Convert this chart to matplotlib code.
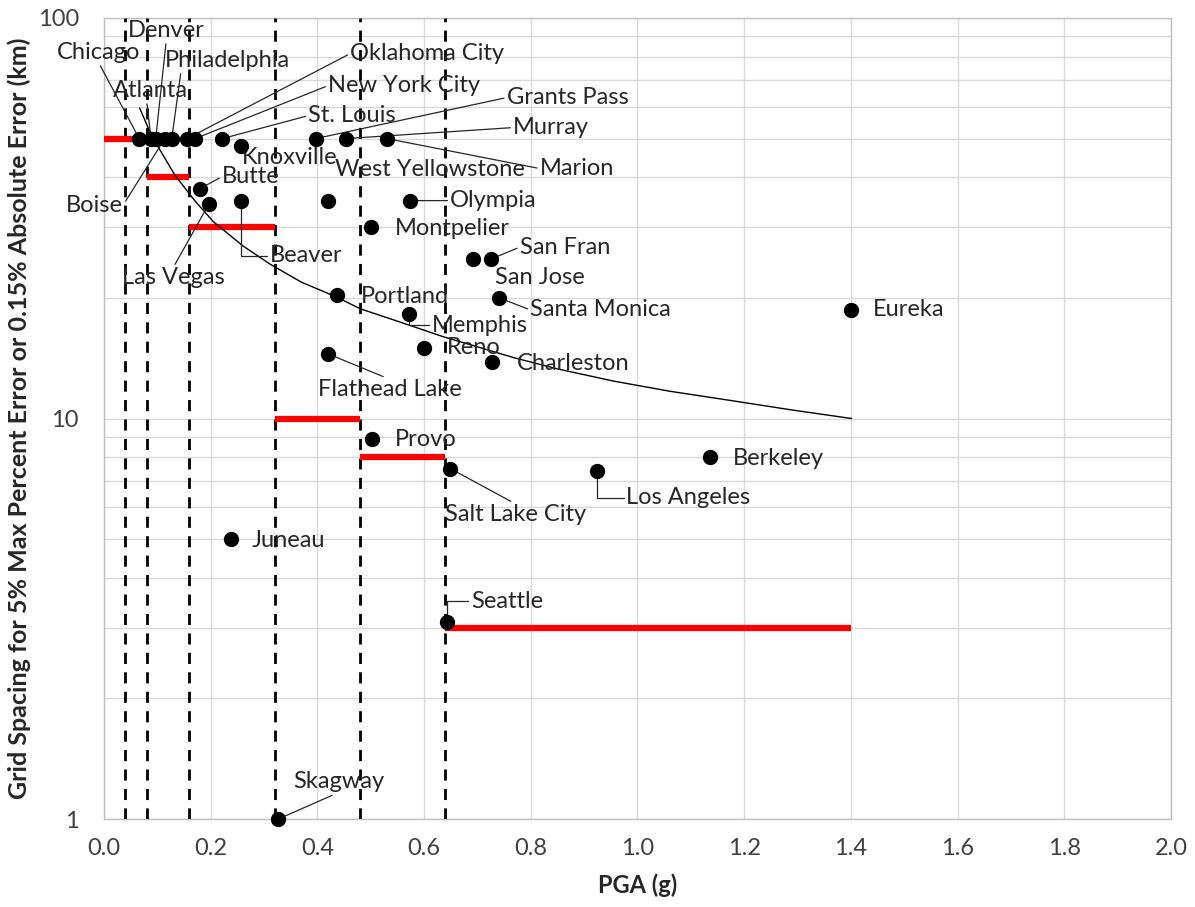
import matplotlib
matplotlib.use("Agg")
import matplotlib.pyplot as plt
from matplotlib.ticker import FixedLocator, FuncFormatter, NullFormatter, LogLocator

plt.rcParams["font.family"] = ["Lato", "DejaVu Sans"]

# city points: PGA (g) and grid spacing (km)
cities = ["Chicago", "Atlanta", "Denver", "Boise", "Philadelphia", "Oklahoma City",
          "New York City", "St. Louis", "Knoxville", "Grants Pass", "Murray", "Marion",
          "West Yellowstone", "Butte", "Las Vegas", "Beaver", "Olympia", "Montpelier",
          "San Fran", "San Jose", "Portland", "Santa Monica", "Memphis", "Reno",
          "Charleston", "Flathead Lake", "Eureka", "Provo", "Salt Lake City",
          "Los Angeles", "Berkeley", "Juneau", "Seattle", "Skagway"]
pga = [0.066, 0.088, 0.097, 0.114, 0.127, 0.156,
       0.171, 0.222, 0.256, 0.397, 0.454, 0.530,
       0.420, 0.180, 0.197, 0.256, 0.574, 0.500,
       0.725, 0.691, 0.437, 0.741, 0.572, 0.599,
       0.727, 0.420, 1.400, 0.502, 0.649,
       0.925, 1.135, 0.238, 0.643, 0.327]
spacing = [50, 50, 50, 50, 50, 50,
           50, 50, 48, 50, 50, 50,
           35, 37.5, 34.4, 35, 35, 30,
           25, 25, 20.3, 20, 18.2, 15,
           13.8, 14.5, 18.7, 8.9, 7.5,
           7.4, 8.0, 5.0, 3.1, 1.0]

# red bin steps
bin_start = [0.00, 0.08, 0.16, 0.32, 0.48, 0.64]
bin_end = [0.08, 0.16, 0.32, 0.48, 0.64, 1.40]
bin_spacing = [50, 40, 30, 10, 8, 3]

# dashed PGA bin edges
bin_edges = [0.04, 0.08, 0.16, 0.32, 0.48, 0.64]

# thin black curve
curve_x = [0.067, 0.086, 0.105, 0.133, 0.17, 0.205, 0.26, 0.311, 0.37, 0.436, 0.48, 0.55,
           0.636, 0.70, 0.767, 0.85, 0.955, 1.06, 1.173, 1.29, 1.401]
curve_y = [59.5, 52, 46.8, 40.5, 35.0, 31.0, 27.0, 24.3, 21.9, 20.1, 18.8, 17.5,
           16.0, 15.1, 14.2, 13.3, 12.4, 11.7, 11.1, 10.5, 10.0]

# label placement: offset in pixels (right, up), leader start on text box, leader kind
lab = {
    "Chicago": (-82, 86, (0.5, 0), "line"),
    "Atlanta": (-38, 48, (0.45, 0), "line"),
    "Denver": (-28, 108, (0.5, 0), "line"),
    "Boise": (-99, -67, (1, 0.5), "line"),
    "Philadelphia": (-7, 78, (0.13, 0), "line"),
    "Oklahoma City": (163, 85, (0, 0.5), "line"),
    "New York City": (133, 53, (0, 0.5), "line"),
    "St. Louis": (86, 23, (0, 0.5), "line"),
    "Knoxville": (1, -12, None, None),
    "Grants Pass": (191, 41, (0, 0.5), "line"),
    "Murray": (167, 11, (0, 0.5), "line"),
    "Marion": (153, -30, (0, 0.5), "line"),
    "West Yellowstone": (7, 31, None, None),
    "Butte": (22, 12, (0, 0.5), "line"),
    "Las Vegas": (-87, -74, (0.5, 1), "line"),
    "Beaver": (29, -55, (0, 0.5), "angle"),
    "Olympia": (40, 0, (0, 0.5), "line"),
    "Montpelier": (24, -1, None, None),
    "San Fran": (29, 12, (0, 0.5), "line"),
    "San Jose": (22, -18, None, None),
    "Portland": (24, -1, None, None),
    "Santa Monica": (31, -12, (0, 0.5), "line"),
    "Memphis": (23, -11, (0, 0.5), "angle"),
    "Reno": (23, 0, None, None),
    "Charleston": (25, -1, None, None),
    "Flathead Lake": (-10, -36, (0.5, 1), "line"),
    "Eureka": (22, 0, None, None),
    "Provo": (23, -1, None, None),
    "Salt Lake City": (-5, -46, (0.5, 1), "line"),
    "Los Angeles": (29, -27, (0, 0.5), "angle"),
    "Berkeley": (23, -1, None, None),
    "Juneau": (21, -1, None, None),
    "Seattle": (24, 21, (0, 0.5), "angle"),
    "Skagway": (14.5, 37, (0.5, 0), "line"),
}

fig = plt.figure(figsize=(11.95, 9.07), dpi=100, facecolor="white")
ax = fig.add_axes([104 / 1195, 1 - 819 / 907, 1067 / 1195, 801 / 907])

for x in bin_edges:
    ax.plot([x, x], [1, 100], color="black", lw=2.0, linestyle=(0, (4, 3)), zorder=3)

for a, b, s in zip(bin_start, bin_end, bin_spacing):
    ax.plot([a, b], [s, s], color="#ff0000", lw=4.5, solid_capstyle="butt", zorder=4)

ax.plot(curve_x, curve_y, color="black", lw=1.0, zorder=4)

ax.plot(pga, spacing, "o", color="black", markersize=10, zorder=6, clip_on=False)

k = 72 / 100
for name, x, y in zip(cities, pga, spacing):
    dx, dy, rel, kind = lab[name]
    props = None
    if kind == "line":
        props = dict(arrowstyle="-", color="#262626", lw=0.9, relpos=rel, shrinkA=0, shrinkB=0)
    elif kind == "angle":
        props = dict(arrowstyle="-", color="#262626", lw=0.9, relpos=rel, shrinkA=0, shrinkB=0,
                     connectionstyle="angle,angleA=0,angleB=90,rad=0")
    ax.annotate(name, xy=(x, y), xytext=(dx * k, dy * k), textcoords="offset points",
                ha="left", va="center", fontsize=17, color="#262626",
                arrowprops=props, zorder=5)

ax.set_yscale("log")
ax.set_xlim(0, 2.0)
ax.set_ylim(1, 100)
ax.xaxis.set_major_locator(FixedLocator([i * 0.2 for i in range(11)]))
ax.xaxis.set_major_formatter(FuncFormatter(lambda v, p: f"{v:.1f}"))
ax.yaxis.set_major_locator(FixedLocator([1, 10, 100]))
ax.yaxis.set_major_formatter(FuncFormatter(lambda v, p: f"{v:g}"))
ax.yaxis.set_minor_locator(LogLocator(base=10, subs=range(2, 10)))
ax.yaxis.set_minor_formatter(NullFormatter())
ax.grid(True, which="major", color="#d9d9d9", lw=1.0)
ax.grid(True, which="minor", axis="y", color="#d9d9d9", lw=1.0)
ax.set_axisbelow(True)
ax.tick_params(axis="both", which="both", length=0, labelsize=17, labelcolor="#404040")
ax.tick_params(axis="x", pad=14)
ax.tick_params(axis="y", pad=18)
for sp in ax.spines.values():
    sp.set_color("#bfbfbf")
    sp.set_linewidth(1.0)

ax.set_xlabel("PGA (g)", fontsize=17, fontweight="bold", color="#262626", labelpad=10)
ax.set_ylabel("Grid Spacing for 5% Max Percent Error or 0.15% Absolute Error (km)",
              fontsize=18, fontweight="bold", color="#262626")
ax.yaxis.set_label_coords(-0.068, 0.5)

fig.savefig("out.png", dpi=100, facecolor="white")
